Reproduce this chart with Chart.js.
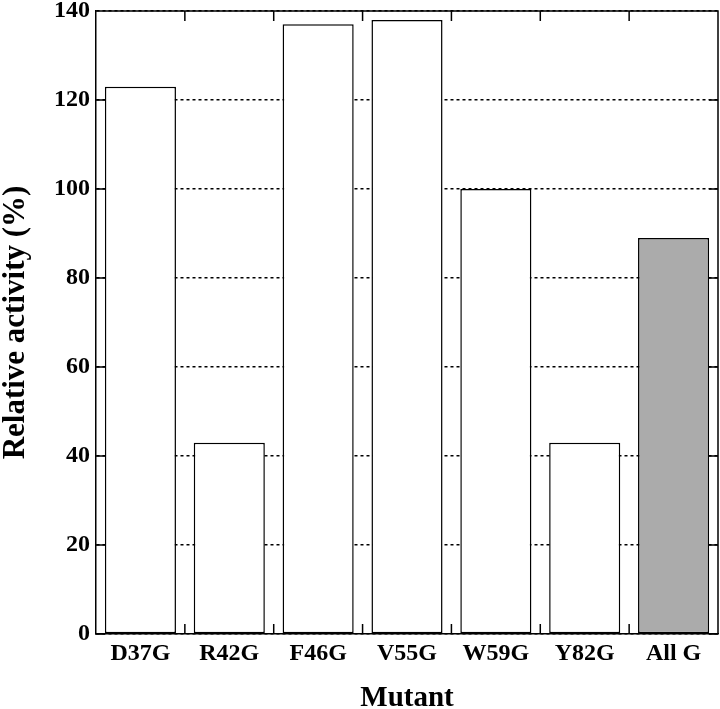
<!DOCTYPE html>
<html>
<head>
<meta charset="utf-8">
<script src="https://cdn.jsdelivr.net/npm/chart.js@4/dist/chart.umd.min.js"></script>
<style>
  html, body { margin: 0; padding: 0; background: #fff; }
  #wrap { width: 720px; height: 709px; }
</style>
</head>
<body>
<div id="wrap"><canvas id="activityChart" width="720" height="709"></canvas></div>
<script>
// Daten des Diagramms
const mutants = ['D37G', 'R42G', 'F46G', 'V55G', 'W59G', 'Y82G', 'All G'];
const activity = [123, 43, 137, 138, 100, 43, 89];
const barColors = ['#ffffff', '#ffffff', '#ffffff', '#ffffff', '#ffffff', '#ffffff', '#ababab'];
const yTicks = [0, 20, 40, 60, 80, 100, 120, 140];

const serif = '"Liberation Serif", "Times New Roman", Times, serif';

// Rahmen oben/rechts und nach innen zeigende Teilstriche
const frameTicks = {
    id: 'frameTicks',
    afterDatasetsDraw(chart) {
        const { ctx, chartArea: a, scales: { x, y } } = chart;
        const len = 9;
        ctx.save();
        ctx.strokeStyle = '#000';
        ctx.lineWidth = 1.5;
        ctx.beginPath();
        ctx.moveTo(a.left, a.top);
        ctx.lineTo(a.right, a.top);
        ctx.lineTo(a.right, a.bottom);
        yTicks.forEach(v => {
            const py = y.getPixelForValue(v);
            ctx.moveTo(a.left, py);
            ctx.lineTo(a.left + len, py);
            ctx.moveTo(a.right, py);
            ctx.lineTo(a.right - len, py);
        });
        for (let i = 0; i < mutants.length - 1; i++) {
            const px = (x.getPixelForValue(i) + x.getPixelForValue(i + 1)) / 2;
            ctx.moveTo(px, a.bottom);
            ctx.lineTo(px, a.bottom - len - 1);
            ctx.moveTo(px, a.top);
            ctx.lineTo(px, a.top + len + 1);
        }
        ctx.stroke();
        ctx.restore();
    }
};

const ctx = document.getElementById('activityChart').getContext('2d');
new Chart(ctx, {
    type: 'bar',
    data: {
        labels: mutants,
        datasets: [{
            data: activity,
            backgroundColor: barColors,
            borderColor: '#000',
            borderWidth: 1.5,
            borderSkipped: false,
            barPercentage: 0.8,
            categoryPercentage: 1.0
        }]
    },
    options: {
        responsive: false,
        animation: false,
        layout: { padding: { top: 11, right: 2, left: 0, bottom: 0 } },
        plugins: {
            legend: { display: false },
            tooltip: { enabled: false }
        },
        scales: {
            x: {
                offset: true,
                grid: { display: false, drawTicks: false },
                border: { display: true, color: '#000', width: 1.5 },
                ticks: {
                    color: '#000',
                    padding: 5,
                    font: { family: serif, size: 24, weight: 'bold' }
                },
                title: {
                    display: true,
                    text: 'Mutant',
                    color: '#000',
                    padding: 0,
                    font: { family: serif, size: 29, weight: 'bold', lineHeight: 0.7 }
                },
                afterFit(scale) { scale.height = 75; }
            },
            y: {
                min: 0,
                max: 140,
                grid: {
                    color: '#000',
                    lineWidth: 1.5,
                    drawTicks: false
                },
                border: { display: true, color: '#000', width: 1.5, dash: [3, 3] },
                ticks: {
                    stepSize: 20,
                    color: '#000',
                    padding: 6,
                    font: { family: serif, size: 24, weight: 'bold' }
                },
                title: {
                    display: true,
                    text: 'Relative activity (%)',
                    color: '#000',
                    padding: 0,
                    font: { family: serif, size: 31, weight: 'bold', lineHeight: 1 }
                },
                afterFit(scale) {
                    scale.width = 96;
                    scale.paddingTop = 0;
                    scale.paddingBottom = 0;
                }
            }
        }
    },
    plugins: [frameTicks]
});
</script>
</body>
</html>
